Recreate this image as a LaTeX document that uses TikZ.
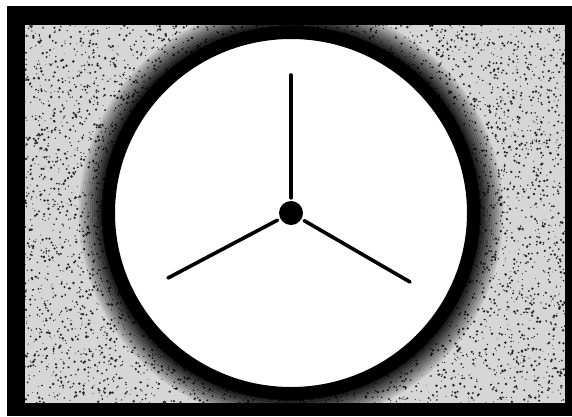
\documentclass[tikz,border=0pt]{standalone}
\usetikzlibrary{positioning}

\begin{document}
\begin{tikzpicture}[
    x=1pt, y=-1pt,
    frame/.style={fill=black},
    field/.style={fill=black!16},
    speck/.style={fill=black!85},
    halo/.style={draw=black, line width=2.4pt},
    ring/.style={draw=black, line width=13pt, fill=white},
    spoke/.style={line width=3.6pt, line cap=round, shorten >=3pt},
    hub/.style={circle, fill=black, minimum size=24pt, inner sep=0pt}
]
\useasboundingbox (0,0) rectangle (572,416);

% frame and speckled field
\fill[frame] (7,6) rectangle (572,416);
\fill[field] (25,25) rectangle (565,403);
\begin{scope}
  \clip (25,25) rectangle (565,403);
  \pgfmathsetseed{17}
  \foreach \i in {1,...,7000}{
    \pgfmathsetmacro{\sx}{25+540*rnd}
    \pgfmathsetmacro{\sy}{25+378*rnd}
    \pgfmathsetmacro{\sr}{0.4+1.0*rnd}
    \fill[speck] (\sx,\sy) circle[radius=\sr pt];
  }
  % dark fuzzy halo round the disc
  \foreach \k in {0,...,10}{
    \pgfmathsetmacro{\op}{0.9-0.08*\k}
    \pgfmathsetmacro{\rx}{189+2.2*\k}
    \pgfmathsetmacro{\ry}{187+2.2*\k}
    \draw[halo, opacity=\op] (291,213) ellipse[x radius=\rx pt, y radius=\ry pt];
  }
\end{scope}

% disc
\draw[ring] (291,213) ellipse[x radius=182.5pt, y radius=180.5pt];

\node[hub] (hub) at (291,213) {};
\coordinate (tipN) at (291,75);
\coordinate (tipL) at (168,278);
\coordinate (tipR) at (410,282);

\draw[spoke] (tipN) -- (hub);
\draw[spoke] (tipL) -- (hub);
\draw[spoke] (tipR) -- (hub);

\end{tikzpicture}
\end{document}
